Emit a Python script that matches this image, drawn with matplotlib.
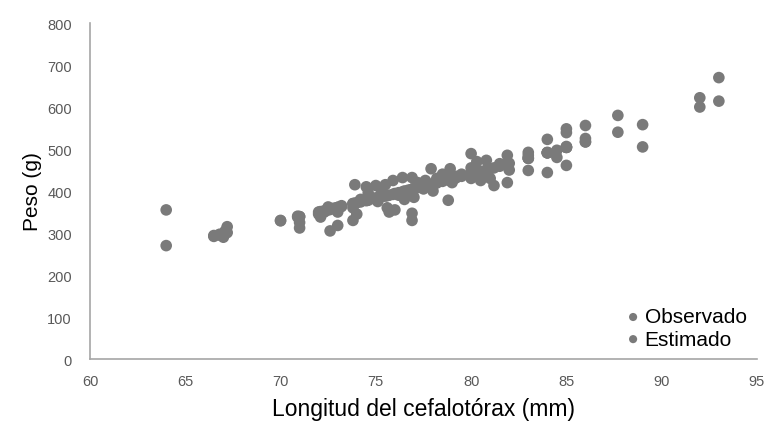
import matplotlib
matplotlib.use("Agg")
import matplotlib.pyplot as plt

# Longitud del cefalotórax (mm) por ejemplar, peso observado y estimado (g)
longitud = [
    64.0, 66.5, 66.8, 67.0, 67.2, 67.1, 70.0, 70.9, 71.0, 71.0,
    72.0, 72.1, 72.3, 72.5, 72.6, 72.8, 73.0, 73.0, 73.2, 73.8,
    73.8, 73.9, 74.0, 74.2, 74.5, 74.6, 75.0, 75.0, 75.1, 75.3,
    75.5, 75.6, 75.7, 75.9, 76.0, 76.2, 76.4, 76.5, 76.7, 76.9,
    76.9, 76.9, 77.0, 77.2, 77.5, 77.6, 77.9, 78.0, 78.2, 78.5,
    78.8, 78.9, 79.0, 79.2, 79.5, 80.0, 80.0, 80.0, 80.3, 80.5,
    80.8, 80.8, 81.0, 81.2, 81.5, 81.9, 81.9, 81.9, 82.0, 83.0,
    83.0, 83.0, 84.0, 84.0, 84.0, 84.5, 85.0, 85.0, 85.0, 85.0,
    86.0, 86.0, 87.7, 89.0, 92.0, 93.0,
]
observado = [
    355, 292, 295, 290, 315, 305, 330, 340, 312, 325,
    345, 338, 350, 362, 305, 358, 318, 350, 365, 330,
    360, 415, 345, 380, 410, 395, 413, 380, 375, 400,
    415, 360, 350, 425, 355, 390, 432, 380, 395, 432,
    347, 330, 385, 420, 405, 425, 453, 400, 430, 440,
    378, 453, 420, 435, 440, 489, 455, 430, 470, 425,
    473, 445, 430, 413, 465, 485, 465, 420, 450, 492,
    485, 449, 523, 492, 444, 480, 548, 539, 506, 461,
    556, 525, 580, 505, 622, 670,
]
estimado = [
    270, 294, 297, 299, 301, 300, 329, 338, 339, 339,
    350, 351, 353, 355, 356, 359, 361, 361, 363, 370,
    370, 371, 372, 374, 377, 378, 383, 383, 384, 386,
    388, 389, 390, 392, 394, 396, 398, 400, 402, 404,
    404, 404, 406, 408, 411, 412, 416, 417, 419, 423,
    426, 427, 429, 431, 435, 441, 441, 441, 444, 447,
    450, 450, 453, 455, 459, 464, 464, 464, 466, 478,
    478, 478, 491, 491, 491, 497, 504, 504, 504, 504,
    517, 517, 540, 558, 600, 614,
]

plt.rcParams["font.family"] = ["Liberation Sans", "DejaVu Sans"]

fig = plt.figure(figsize=(7.65, 4.31), dpi=100)
ax = fig.add_axes([0.1176, 0.1647, 0.8719, 0.7796])

punto = "#7a7a7a"
ax.scatter(longitud, observado, s=70, color=punto, edgecolors="none",
           label="Observado", zorder=3)
ax.scatter(longitud, estimado, s=70, color=punto, edgecolors="none",
           label="Estimado", zorder=3)

ax.set_xlim(60, 95)
ax.set_ylim(0, 800)
ax.set_xticks(range(60, 96, 5))
ax.set_yticks(range(0, 801, 100))

for lado in ("top", "right"):
    ax.spines[lado].set_visible(False)
for lado in ("left", "bottom"):
    ax.spines[lado].set_color("#a6a6a6")
    ax.spines[lado].set_linewidth(1.2)

ax.tick_params(axis="both", length=0, labelsize=10.5, labelcolor="#595959")
ax.tick_params(axis="x", pad=11)
ax.tick_params(axis="y", pad=13)

ax.set_xlabel("Longitud del cefalotórax (mm)", fontsize=16.5, labelpad=6)
ax.set_ylabel("Peso (g)", fontsize=15, labelpad=4)

ax.legend(loc="lower right", bbox_to_anchor=(1.0, 0.0), frameon=False,
          fontsize=15, handletextpad=-0.45, labelspacing=0.15,
          markerscale=0.7, borderaxespad=0.1)

fig.savefig("out.png", dpi=100)
